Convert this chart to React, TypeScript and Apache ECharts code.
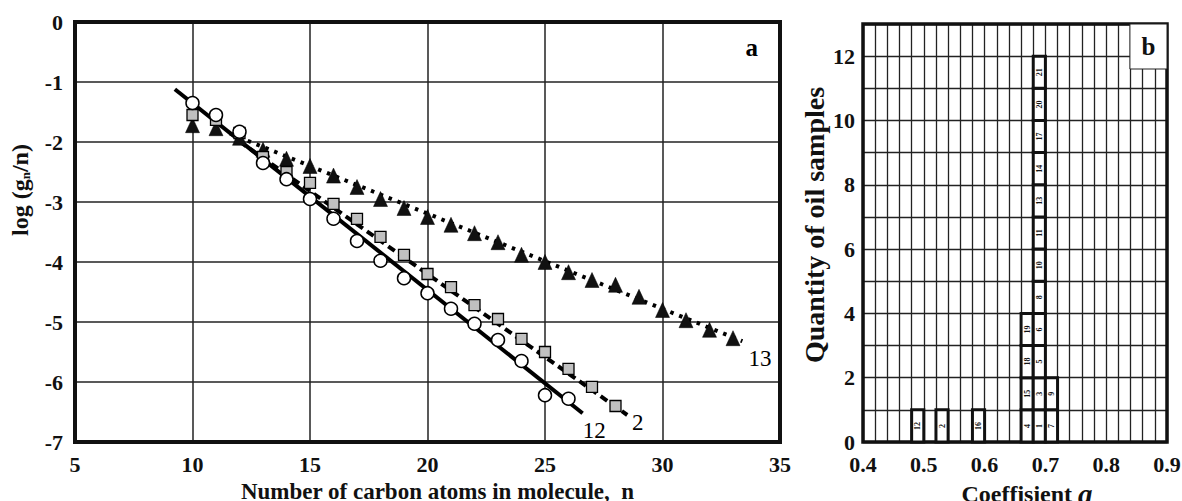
import React, { useEffect, useRef } from "react";
import * as echarts from "echarts";

// ---- panel a data ----
const n12 = [10, 11, 12, 13, 14, 15, 16, 17, 18, 19, 20, 21, 22, 23, 24, 25, 26];
const log12 = [-1.35, -1.55, -1.83, -2.35, -2.62, -2.95, -3.28, -3.65, -3.98, -4.27, -4.52, -4.78, -5.03, -5.3, -5.65, -6.22, -6.28];
const n2 = [10, 11, 12, 13, 14, 15, 16, 17, 18, 19, 20, 21, 22, 23, 24, 25, 26, 27, 28];
const log2 = [-1.55, -1.63, -1.85, -2.25, -2.5, -2.68, -3.03, -3.28, -3.58, -3.88, -4.2, -4.42, -4.72, -4.95, -5.28, -5.5, -5.78, -6.08, -6.4];
const n13 = [10, 11, 12, 13, 14, 15, 16, 17, 18, 19, 20, 21, 22, 23, 24, 25, 26, 27, 28, 29, 30, 31, 32, 33];
const log13 = [-1.72, -1.77, -1.93, -2.13, -2.28, -2.4, -2.56, -2.75, -2.95, -3.1, -3.25, -3.38, -3.52, -3.67, -3.88, -4.0, -4.17, -4.3, -4.38, -4.58, -4.8, -4.97, -5.13, -5.27];
const fit12 = [[9.25, -1.12], [26.6, -6.52]];
const fit2 = [[12, -1.99], [28.5, -6.55]];
const fit13 = [[11.6, -1.86], [33.4, -5.32]];
const curveLabels = [
  { text: "12", x: 27.1, y: -6.8 },
  { text: "2", x: 28.95, y: -6.68 },
  { text: "13", x: 34.15, y: -5.6 },
];
const panelALabel = { text: "a", x: 33.8, y: -0.42 };

// ---- panel b data ----
const binStart = [0.48, 0.52, 0.58, 0.66, 0.68, 0.7];
const binWidth = 0.02;
const binSamples = [
  ["12"],
  ["2"],
  ["16"],
  ["4", "15", "18", "19"],
  ["1", "3", "5", "6", "8", "10", "11", "13", "14", "17", "20", "21"],
  ["7", "9"],
];
const panelBBox = { text: "b", x0: 0.839, x1: 0.9, y0: 11.6, y1: 13 };

const FONT = "Liberation Serif";
const TICK_RICH = { t: { fontFamily: FONT, fontWeight: 700, fontSize: 22, color: "#111" } };
const tick = (fmt: (v: number) => string, extra: any = {}) => ({
  fontFamily: FONT, fontWeight: 700, fontSize: 22, color: "#111",
  formatter: (v: number) => {
    const s = fmt(v);
    return s === "" ? "" : "{t|" + s + "}";
  },
  rich: TICK_RICH,
  ...extra,
});
const nameStyle = (size: number, extra: any = {}) => ({ fontFamily: FONT, fontWeight: 700, fontSize: size, color: "#111", ...extra });

export default function App() {
  const refA = useRef<HTMLDivElement>(null);
  const refB = useRef<HTMLDivElement>(null);

  useEffect(() => {
    document.body.style.margin = "0";
    const chartA = echarts.init(refA.current!, null, { renderer: "svg" });
    const chartB = echarts.init(refB.current!, null, { renderer: "svg" });

    const cells: any[] = [];
    binStart.forEach((x0, i) => {
      binSamples[i].forEach((lab, k) => {
        cells.push([x0, x0 + binWidth, k, k + 1, lab]);
      });
    });

    const optionA: any = {
      animation: false,
      backgroundColor: "#fff",
      grid: { left: 75, top: 22, width: 705, height: 420, show: true, borderColor: "#111", borderWidth: 4, backgroundColor: "transparent", z: 3, outerBoundsMode: "none", containLabel: false },
      xAxis: {
        type: "value", min: 5, max: 35, interval: 5,
        axisLine: { show: false }, axisTick: { show: false },
        axisLabel: tick((v) => String(v), { margin: 11 }),
        splitLine: { show: true, lineStyle: { color: "#222", width: 1.5 } },
        name: "Number of carbon atoms in molecule,  n", nameLocation: "middle", nameGap: 29,
        nameTextStyle: nameStyle(23, { padding: [0, 0, 0, 20] }),
      },
      yAxis: {
        type: "value", min: -7, max: 0, interval: 1,
        axisLine: { show: false }, axisTick: { show: false },
        axisLabel: tick((v) => String(v), { margin: 12 }),
        splitLine: { show: true, lineStyle: { color: "#222", width: 1.5 } },
        name: "log (g{s|n}/n)", nameLocation: "middle", nameGap: 43,
        nameTextStyle: nameStyle(24, {
          padding: [0, 0, 0, 84],
          rich: {
            s: { fontFamily: FONT, fontWeight: 700, fontSize: 13, color: "#111", verticalAlign: "bottom", padding: [9, 0, 0, 0] },
          },
        }),
      },
      series: [
        { type: "line", data: fit12, symbol: "none", lineStyle: { color: "#000", width: 4 }, z: 4 },
        { type: "line", data: fit2, symbol: "none", lineStyle: { color: "#000", width: 4, type: [8, 5] }, z: 4 },
        { type: "line", data: fit13, symbol: "none", lineStyle: { color: "#000", width: 4, type: [3.5, 6] }, z: 4 },
        {
          type: "scatter", z: 5,
          data: n13.map((n, i) => [n, log13[i]]), symbol: "triangle", symbolSize: [14, 15],
          itemStyle: { color: "#111", borderColor: "#000", borderWidth: 0.5, opacity: 1 },
        },
        {
          type: "scatter", z: 5,
          data: n2.map((n, i) => [n, log2[i]]), symbol: "rect", symbolSize: 11,
          itemStyle: { color: "#c0c0c0", borderColor: "#000", borderWidth: 1.3, opacity: 1 },
        },
        {
          type: "scatter", z: 5,
          data: n12.map((n, i) => [n, log12[i]]), symbol: "circle", symbolSize: 13,
          itemStyle: { color: "#fff", borderColor: "#000", borderWidth: 1.5, opacity: 1 },
        },
        {
          type: "scatter", z: 6, silent: true,
          data: curveLabels.map((c) => ({ value: [c.x, c.y], label: { formatter: c.text } })),
          symbolSize: 1, itemStyle: { color: "rgba(0,0,0,0)" },
          label: { show: true, position: "inside", fontFamily: FONT, fontSize: 23, color: "#000", opacity: 1, textBorderWidth: 0 },
        },
        {
          type: "scatter", z: 6, silent: true,
          data: [{ value: [panelALabel.x, panelALabel.y], label: { formatter: panelALabel.text } }],
          symbolSize: 1, itemStyle: { color: "rgba(0,0,0,0)" },
          label: { show: true, position: "inside", fontFamily: FONT, fontWeight: 700, fontSize: 25, color: "#000", opacity: 1, textBorderWidth: 0 },
        },
      ],
    };

    const optionB: any = {
      animation: false,
      backgroundColor: "transparent",
      grid: { left: 863, top: 24, width: 304, height: 418, show: true, borderColor: "#111", borderWidth: 3.5, backgroundColor: "transparent", z: 3, outerBoundsMode: "none", containLabel: false },
      xAxis: {
        type: "value", min: 0.4, max: 0.9, interval: 0.1,
        axisLine: { show: false }, axisTick: { show: false },
        axisLabel: tick((v) => v.toFixed(1), { margin: 11 }),
        splitLine: { show: true, lineStyle: { color: "#222", width: 1.3 } },
        minorTick: { show: false, splitNumber: 5 },
        minorSplitLine: { show: true, lineStyle: { color: "#222", width: 1.3 } },
        name: "Coeffisient {it|a}", nameLocation: "middle", nameGap: 27,
        nameTextStyle: nameStyle(24, {
          padding: [0, 0, 0, 24],
          rich: { it: { fontFamily: FONT, fontWeight: 700, fontStyle: "italic", fontSize: 29, color: "#111" } },
        }),
      },
      yAxis: {
        type: "value", min: 0, max: 13, interval: 2,
        axisLine: { show: false }, axisTick: { show: false },
        axisLabel: tick((v) => (v > 12 ? "" : String(v)), { margin: 8 }),
        splitLine: { show: true, lineStyle: { color: "#222", width: 1.3 } },
        minorTick: { show: false, splitNumber: 2 },
        minorSplitLine: { show: true, lineStyle: { color: "#222", width: 1.3 } },
        name: "Quantity of oil samples", nameLocation: "middle", nameGap: 35,
        nameTextStyle: nameStyle(28, { padding: [0, 0, 0, 16] }),
      },
      series: [
        {
          type: "custom", z: 5,
          data: cells,
          encode: { x: [0, 1], y: [2, 3] },
          renderItem: (params: any, api: any) => {
            const p0 = api.coord([api.value(0), api.value(2)]);
            const p1 = api.coord([api.value(1), api.value(3)]);
            const x = p0[0], y = p1[1], w = p1[0] - p0[0], h = p0[1] - p1[1];
            const lab = cells[params.dataIndex][4];
            return {
              type: "group",
              children: [
                { type: "rect", shape: { x, y, width: w, height: h }, style: { fill: "#fff", stroke: "#111", lineWidth: 3 } },
                {
                  type: "text", x: x + w / 2, y: y + h / 2, rotation: Math.PI / 2,
                  style: { text: lab, fontFamily: FONT, fontWeight: 700, fontSize: 8, fill: "#111", align: "center", verticalAlign: "middle" },
                },
              ],
            };
          },
        },
        {
          type: "custom", z: 10, silent: true,
          data: [[panelBBox.x0, panelBBox.x1, panelBBox.y0, panelBBox.y1]],
          encode: { x: [0, 1], y: [2, 3] },
          renderItem: (params: any, api: any) => {
            const p0 = api.coord([api.value(0), api.value(2)]);
            const p1 = api.coord([api.value(1), api.value(3)]);
            const x = p0[0], y = p1[1], w = p1[0] - p0[0], h = p0[1] - p1[1];
            return {
              type: "group",
              children: [
                { type: "rect", shape: { x, y, width: w, height: h }, style: { fill: "#fff", stroke: "#222", lineWidth: 1 } },
                {
                  type: "text", x: x + w / 2, y: y + h / 2,
                  style: { text: panelBBox.text, fontFamily: FONT, fontWeight: 700, fontSize: 25, fill: "#111", align: "center", verticalAlign: "middle" },
                },
              ],
            };
          },
        },
      ],
    };

    chartA.setOption(optionA);
    chartB.setOption(optionB);
    return () => {
      chartA.dispose();
      chartB.dispose();
    };
  }, []);

  return (
    <div style={{ position: "relative", width: 1182, height: 501 }}>
      <div ref={refA} style={{ position: "absolute", left: 0, top: 0, width: 1182, height: 501 }} />
      <div ref={refB} style={{ position: "absolute", left: 0, top: 0, width: 1182, height: 501 }} />
    </div>
  );
}
